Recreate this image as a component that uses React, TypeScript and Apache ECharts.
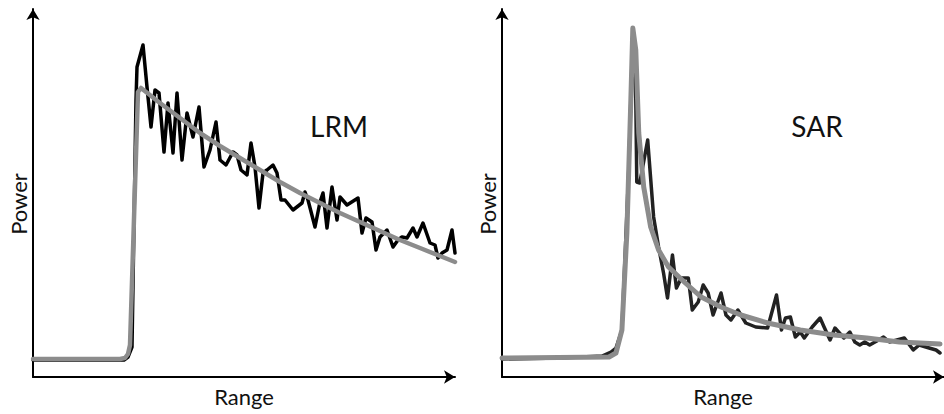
import React, { useEffect, useRef } from "react";
import * as echarts from "echarts";

// Range bins / power units
const lrmEcho: number[][] = [
  [0, 17], [47, 17], [91, 17], [95, 20], [99, 30], [103, 277], [104, 310], [110, 332],
  [114, 290], [118, 250], [122, 287], [126, 284], [131, 225], [135, 274], [140, 224],
  [144, 284], [149, 217], [154, 264], [160, 240], [166, 270], [171, 210], [177, 227],
  [183, 255], [187, 217], [193, 212], [200, 225], [204, 222], [208, 207], [214, 202],
  [218, 234], [222, 210], [226, 169], [230, 204], [234, 207], [240, 212], [244, 204],
  [248, 177], [252, 177], [260, 167], [269, 174], [272, 185], [275, 177], [282, 150],
  [287, 175], [290, 184], [294, 149], [299, 190], [304, 157], [307, 180], [314, 172],
  [325, 179], [329, 144], [333, 159], [339, 155], [343, 127], [347, 140], [354, 147],
  [360, 130], [365, 137], [369, 140], [374, 139], [380, 149], [384, 140], [390, 154],
  [397, 134], [402, 132], [405, 119], [409, 124], [414, 127], [419, 147], [422, 124],
];

const lrmModel: number[][] = [
  [0, 18], [87, 18], [92, 19], [95, 23], [97, 32], [105, 285], [108, 289], [127, 274],
  [147, 259], [167, 244], [187, 231], [207, 219], [227, 207], [247, 195], [267, 184],
  [287, 174], [307, 164], [327, 155], [347, 146], [367, 137], [387, 129], [407, 121],
  [422, 115],
];

const sarEcho: number[][] = [
  [0, 18], [58, 19], [101, 21], [110, 25], [115, 29], [121, 47], [128, 210], [132, 345],
  [135, 277], [136, 195], [139, 194], [147, 237], [153, 160], [158, 130], [163, 104],
  [167, 79], [172, 122], [176, 89], [181, 99], [188, 99], [192, 67], [198, 75], [203, 92],
  [208, 84], [213, 62], [221, 84], [226, 62], [231, 57], [238, 67], [246, 54], [256, 50],
  [268, 49], [277, 82], [282, 47], [286, 59], [291, 60], [296, 40], [301, 45], [305, 39],
  [313, 50], [321, 59], [325, 50], [331, 37], [336, 49], [345, 39], [351, 45], [356, 35],
  [361, 32], [366, 35], [371, 32], [380, 37], [385, 40], [391, 35], [406, 39], [415, 27],
  [421, 32], [431, 29], [438, 27], [442, 24],
];

const sarModel: number[][] = [
  [0, 19], [108, 20], [115, 24], [121, 47], [126, 144], [130, 277], [132, 349], [135, 327],
  [138, 244], [143, 190], [150, 150], [158, 127], [168, 110], [185, 94], [201, 80],
  [221, 70], [241, 62], [268, 54], [301, 47], [335, 42], [368, 39], [401, 35], [442, 33],
];

const panelTitles = ["LRM", "SAR"];
const axisNames = { x: "Range", y: "Power" };

const FONT = "Lato, 'Open Sans', sans-serif";

export default function App() {
  const ref = useRef<HTMLDivElement>(null);

  useEffect(() => {
    if (!ref.current) return;
    const chart = echarts.init(ref.current, undefined, { renderer: "svg" });

    const axisLine = {
      show: true,
      symbol: ["none", "arrow"],
      symbolSize: [10, 11],
      lineStyle: { color: "#000", width: 2 },
    };
    const xAxisBase = {
      type: "value",
      name: axisNames.x,
      nameLocation: "middle",
      nameGap: 8,
      nameTextStyle: { fontFamily: FONT, fontSize: 22, color: "#111" },
      axisLine,
      axisTick: { show: false },
      axisLabel: { show: false },
      splitLine: { show: false },
    };
    const yAxisBase = {
      type: "value",
      name: axisNames.y,
      nameLocation: "middle",
      nameRotate: 90,
      nameGap: 4,
      nameTextStyle: { fontFamily: FONT, fontSize: 22, color: "#111", padding: [0, 22, 0, 0] },
      min: 0,
      max: 368,
      axisLine,
      axisTick: { show: false },
      axisLabel: { show: false },
      splitLine: { show: false },
    };

    const lineSeries = (data: number[][], idx: number, color: string, width: number, z: number) => ({
      type: "line",
      xAxisIndex: idx,
      yAxisIndex: idx,
      data,
      showSymbol: false,
      symbol: "none",
      z,
      lineStyle: { color, width, join: "round", cap: "round" },
      silent: true,
    });

    chart.setOption({
      animation: false,
      backgroundColor: "#fff",
      grid: [
        { left: 33, top: 9, width: 422, height: 368 },
        { left: 502, top: 9, width: 446, height: 368 },
      ],
      xAxis: [
        { ...xAxisBase, gridIndex: 0, min: 0, max: 422 },
        { ...xAxisBase, gridIndex: 1, min: 0, max: 446 },
      ],
      yAxis: [
        { ...yAxisBase, gridIndex: 0 },
        { ...yAxisBase, gridIndex: 1 },
      ],
      graphic: [
        {
          type: "text",
          x: 339,
          y: 126,
          style: {
            text: panelTitles[0],
            fontFamily: FONT,
            fontSize: 28,
            fill: "#111",
            align: "center",
            verticalAlign: "middle",
          },
        },
        {
          type: "text",
          x: 817,
          y: 126,
          style: {
            text: panelTitles[1],
            fontFamily: FONT,
            fontSize: 28,
            fill: "#111",
            align: "center",
            verticalAlign: "middle",
          },
        },
      ],
      series: [
        lineSeries(lrmEcho, 0, "#000", 3.5, 2),
        lineSeries(lrmModel, 0, "#8c8c8c", 4.5, 3),
        lineSeries(sarEcho, 1, "#222", 3.5, 2),
        lineSeries(sarModel, 1, "#8c8c8c", 5, 3),
      ],
    });

    return () => chart.dispose();
  }, []);

  return (
    <div
      ref={ref}
      style={{ position: "absolute", left: 0, top: 0, width: 944, height: 414 }}
    />
  );
}
